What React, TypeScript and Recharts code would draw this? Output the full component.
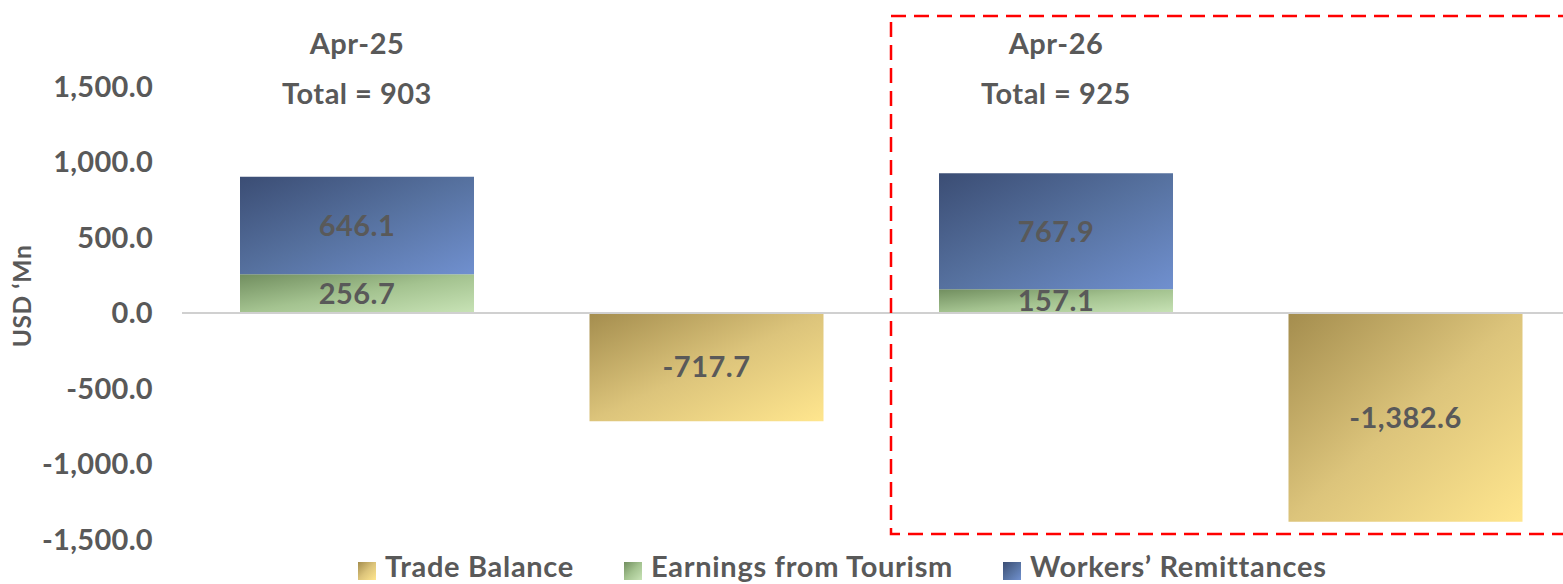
import React from "react";
import { Bar, BarChart, LabelList, ReferenceLine, YAxis, XAxis } from "recharts";

const categories = ["Apr-25 inflows", "Apr-25 trade", "Apr-26 inflows", "Apr-26 trade"];
const tradeBalance = [null, -717.7, null, -1382.6];
const tourism = [256.7, null, 157.1, null];
const remittances = [646.1, null, 767.9, null];
const yTicks = [-1500, -1000, -500, 0, 500, 1000, 1500];
const periods = ["Apr-25", "Apr-26"];
const totals = [903, 925];
const seriesNames = ["Trade Balance", "Earnings from Tourism", "Workers\u2019 Remittances"];

const FONT = "Lato, 'Open Sans', sans-serif";
const GREY = "#595959";

const data = categories.map((name, i) => ({
  name,
  trade: tradeBalance[i],
  tourism: tourism[i],
  remit: remittances[i],
}));

const fmt = (v: any) =>
  v === null || v === undefined || v === ""
    ? ""
    : Number(v).toLocaleString("en-US", { minimumFractionDigits: 1, maximumFractionDigits: 1 });

const gradients = [
  { id: "gTrade", from: "#a48d4e", mid: "#dcc47b", to: "#ffe68e" },
  { id: "gTour", from: "#718e5f", mid: "#a4c390", to: "#c8e3b6" },
  { id: "gRemit", from: "#3b4d74", mid: "#56719f", to: "#7090cf" },
];

function GradDefs({ suffix = "" }: { suffix?: string }) {
  return (
    <defs>
      {gradients.map((g) => (
        <linearGradient key={g.id} id={g.id + suffix} x1="0" y1="0" x2="1" y2="1">
          <stop offset="0%" stopColor={g.from} />
          <stop offset="50%" stopColor={g.mid} />
          <stop offset="100%" stopColor={g.to} />
        </linearGradient>
      ))}
    </defs>
  );
}

const labelProps = { fill: GREY, fontSize: 29, fontWeight: 700, fontFamily: FONT, letterSpacing: 0.5 };
const legendLeft = [358, 624, 1003];

export default function App() {
  return (
    <div style={{ position: "fixed", left: 0, top: 0, width: 1563, height: 584, overflow: "hidden", background: "#fff" }}>
      <BarChart
        width={1580}
        height={584}
        data={data}
        margin={{ top: 11, right: 0, bottom: 44.5, left: 0 }}
        barSize={234}
        stackOffset="sign"
      >
        <GradDefs />
        <XAxis dataKey="name" hide />
        <YAxis
          width={182}
          domain={[-1500, 2000]}
          ticks={yTicks}
          tickLine={false}
          axisLine={false}
          tickSize={0}
          tickMargin={29}
          tickFormatter={fmt}
          tick={{ fill: GREY, fontSize: 29, fontWeight: 700, fontFamily: FONT, letterSpacing: 0.3 }}
          label={{
            value: "USD \u2018Mn",
            angle: -90,
            position: "insideLeft",
            dx: 17,
            dy: 72,
            style: { fill: GREY, fontSize: 24.5, fontWeight: 700, fontFamily: FONT, letterSpacing: 0.6 },
          }}
        />
        <Bar dataKey="trade" stackId="a" fill="url(#gTrade)" isAnimationActive={false}>
          <LabelList dataKey="trade" position="center" formatter={fmt} {...labelProps} />
        </Bar>
        <Bar dataKey="tourism" stackId="a" fill="url(#gTour)" isAnimationActive={false}>
          <LabelList dataKey="tourism" position="center" formatter={fmt} {...labelProps} />
        </Bar>
        <Bar dataKey="remit" stackId="a" fill="url(#gRemit)" isAnimationActive={false}>
          <LabelList dataKey="remit" position="center" formatter={fmt} {...labelProps} />
        </Bar>
        <ReferenceLine y={0} stroke="#d0d0d0" strokeWidth={2} />
      </BarChart>

      <svg width={1563} height={584} style={{ position: "absolute", left: 0, top: 0, pointerEvents: "none" }}>
        <GradDefs suffix="L" />
        <rect x={891} y={16} width={700} height={518} fill="none" stroke="#ff0000" strokeWidth={2.5} strokeDasharray="15 8" />
        {periods.map((p, i) => (
          <g key={p} fontFamily={FONT} fontWeight={700} fontSize={29} fill={GREY} textAnchor="middle" letterSpacing={0.5}>
            <text x={i === 0 ? 357 : 1056} y={54}>{p}</text>
            <text x={i === 0 ? 357 : 1056} y={104}>{`Total = ${totals[i]}`}</text>
          </g>
        ))}
        {seriesNames.map((name, i) => (
          <g key={name}>
            <rect x={legendLeft[i]} y={562} width={18} height={18} fill={`url(#${gradients[i].id}L)`} />
            <text x={legendLeft[i] + 27} y={577} fontFamily={FONT} fontWeight={700} fontSize={29} letterSpacing={0.7} fill={GREY}>
              {name}
            </text>
          </g>
        ))}
      </svg>
    </div>
  );
}
